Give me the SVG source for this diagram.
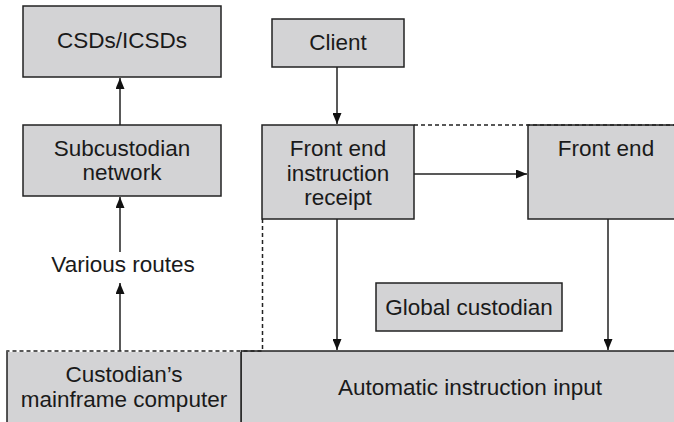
<svg xmlns="http://www.w3.org/2000/svg" width="674" height="422" viewBox="0 0 674 422">
  <style>
    .box { fill: #d3d3d5; stroke: #222; stroke-width: 1.5; }
    .lbl { font-family: "Liberation Sans", Arial, sans-serif; font-size: 22.5px; fill: #1a1a1a; text-anchor: middle; }
    .wire { stroke: #222; stroke-width: 1.5; fill: none; }
    .dash { stroke: #222; stroke-width: 1.5; fill: none; stroke-dasharray: 4 3; }
  </style>
  <defs>
    <marker id="arrow" viewBox="0 0 11 9" refX="11" refY="4.5" markerWidth="11" markerHeight="9" markerUnits="userSpaceOnUse" orient="auto">
      <path d="M0,0 L11,4.5 L0,9 Z" fill="#111"/>
    </marker>
  </defs>

  <rect x="0" y="0" width="674" height="422" fill="#fff"/>

  <!-- bottom layer: mainframe and automatic input -->
  <g id="auto-input">
    <rect class="box" x="241" y="351" width="440" height="80"/>
    <text class="lbl" x="470" y="395">Automatic instruction input</text>
  </g>
  <g id="mainframe">
    <rect x="7" y="351" width="234" height="80" fill="#d3d3d5" stroke="#222" stroke-width="1.5"/>
    <line x1="7" y1="351" x2="241" y2="351" stroke="#fff" stroke-width="2"/>
    <text class="lbl" x="124" y="382">Custodian’s</text>
    <text class="lbl" x="124" y="407">mainframe computer</text>
  </g>

  <g id="csds">
    <rect class="box" x="23" y="6" width="198" height="71"/>
    <text class="lbl" x="122" y="48">CSDs/ICSDs</text>
  </g>
  <g id="subcustodian">
    <rect class="box" x="23" y="125" width="198" height="71"/>
    <text class="lbl" x="122" y="156">Subcustodian</text>
    <text class="lbl" x="122" y="180">network</text>
  </g>
  <g id="various-routes">
    <text class="lbl" x="123" y="272">Various routes</text>
  </g>
  <g id="client">
    <rect class="box" x="272" y="19" width="132" height="48"/>
    <text class="lbl" x="338" y="50">Client</text>
  </g>
  <g id="front-end-receipt">
    <rect class="box" x="262" y="125" width="152" height="94"/>
    <text class="lbl" x="338" y="156">Front end</text>
    <text class="lbl" x="338" y="181">instruction</text>
    <text class="lbl" x="338" y="205">receipt</text>
  </g>
  <g id="front-end">
    <rect class="box" x="528" y="125" width="160" height="94"/>
    <text class="lbl" x="606" y="156">Front end</text>
  </g>
  <g id="global-custodian">
    <rect class="box" x="376" y="283" width="186" height="48"/>
    <text class="lbl" x="469" y="315">Global custodian</text>
  </g>

  <g id="connectors">
    <line class="wire" x1="120" y1="125" x2="120" y2="78" marker-end="url(#arrow)"/>
    <line class="wire" x1="120" y1="252" x2="120" y2="197" marker-end="url(#arrow)"/>
    <line class="wire" x1="120" y1="351" x2="120" y2="283" marker-end="url(#arrow)"/>
    <line class="wire" x1="337" y1="67" x2="337" y2="124" marker-end="url(#arrow)"/>
    <line class="wire" x1="414" y1="174" x2="527" y2="174" marker-end="url(#arrow)"/>
    <line class="wire" x1="337" y1="219" x2="337" y2="350" marker-end="url(#arrow)"/>
    <line class="wire" x1="608" y1="219" x2="608" y2="350" marker-end="url(#arrow)"/>
    <!-- global custodian boundary -->
    <polyline class="dash" points="414,125 674,125"/>
    <polyline class="dash" points="262.5,219 262.5,351 7,351"/>
  </g>
</svg>
